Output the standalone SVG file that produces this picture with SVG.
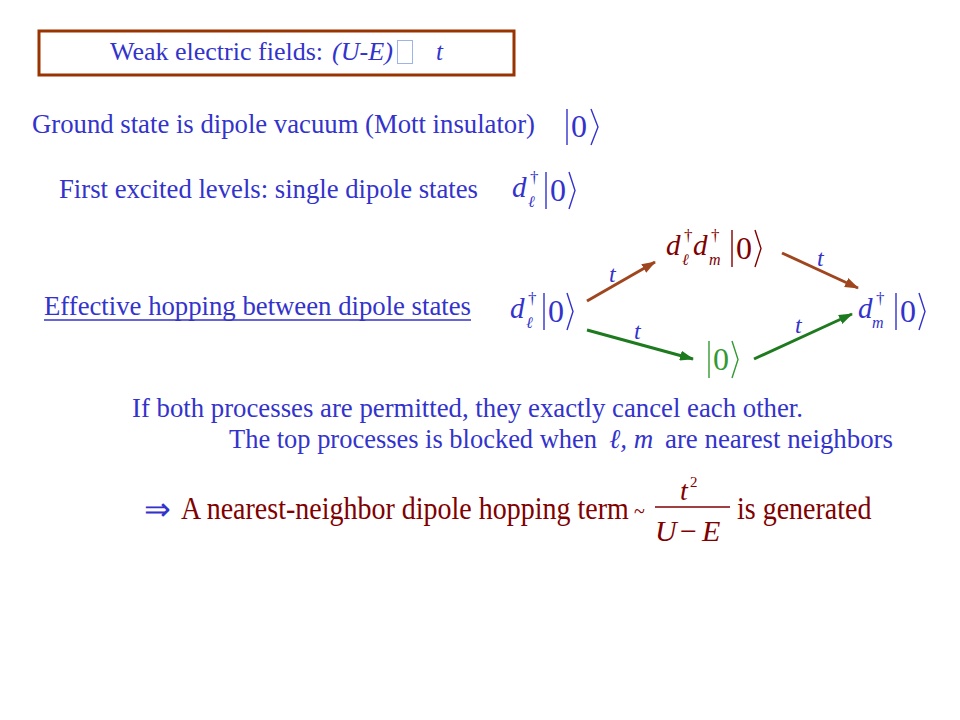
<svg xmlns="http://www.w3.org/2000/svg" width="960" height="720" viewBox="0 0 960 720">
<defs>
<style>
text{font-family:"Liberation Serif","Times New Roman",serif;}
.b{fill:#3333CC;}
.r{fill:#800000;}
.g{fill:#339933;}
.it{font-style:italic;}
.t27{font-size:27px;}
.z{font-size:32px;}
.d{font-size:29px;font-style:italic;}
.sup{font-size:17px;}
.sub{font-size:16px;font-style:italic;}
.kb{fill:none;stroke-width:1.4;stroke-linejoin:miter;}
.kbB{stroke:#3333CC;}
.kbR{stroke:#800000;}
.kbG{stroke:#339933;}
.arB{stroke:#A0461E;stroke-width:3;fill:none;}
.arG{stroke:#1E7A1E;stroke-width:3;fill:none;}
</style>
<marker id="ahB" markerWidth="14" markerHeight="10" refX="13" refY="5" orient="auto" markerUnits="userSpaceOnUse"><path d="M0,0 L14,5 L0,10 Z" fill="#A0461E"/></marker>
<marker id="ahG" markerWidth="14" markerHeight="10" refX="13" refY="5" orient="auto" markerUnits="userSpaceOnUse"><path d="M0,0 L14,5 L0,10 Z" fill="#1E7A1E"/></marker>
</defs>
<rect width="960" height="720" fill="#FFFFFF"/>

<g id="title">
<rect x="39" y="31" width="475" height="44" fill="#FFFFFF" stroke="#993300" stroke-width="3"/>
<text x="110" y="60" class="b" font-size="25" textLength="213" lengthAdjust="spacingAndGlyphs">Weak electric fields:</text>
<text x="332" y="60" class="b it" font-size="25" textLength="61" lengthAdjust="spacingAndGlyphs">(U-E)</text>
<rect x="397.5" y="40.5" width="15" height="23" fill="none" stroke="#9DB4E8" stroke-width="1"/>
<text x="436" y="60" class="b it" font-size="25">t</text>
</g>

<g id="ground">
<text x="32" y="133" class="b t27" textLength="503" lengthAdjust="spacingAndGlyphs">Ground state is dipole vacuum (Mott insulator)</text>
<line x1="567" y1="109" x2="567" y2="145" class="kb kbB"/>
<text x="571" y="137" class="b z">0</text>
<polyline points="591,109 598,127 591,145" class="kb kbB"/>
</g>

<g id="first-excited">
<text x="59" y="198" class="b t27" textLength="419" lengthAdjust="spacingAndGlyphs">First excited levels: single dipole states</text>
<text x="512" y="197" class="b d">d</text>
<text x="530" y="183" class="b sup">†</text>
<text x="528" y="207" class="b sub">ℓ</text>
<line x1="546" y1="172" x2="546" y2="209" class="kb kbB"/>
<text x="550" y="201" class="b z">0</text>
<polyline points="569,172 575,190.5 569,209" class="kb kbB"/>
</g>

<g id="effective">
<text x="44" y="315" class="b t27" textLength="427" lengthAdjust="spacingAndGlyphs">Effective hopping between dipole states</text>
<line x1="44" y1="320" x2="471" y2="320" stroke="#3333CC" stroke-width="1.5"/>
</g>

<g id="state-left">
<text x="510" y="318" class="b d">d</text>
<text x="528" y="304" class="b sup">†</text>
<text x="526" y="328" class="b sub">ℓ</text>
<line x1="544" y1="293" x2="544" y2="330" class="kb kbB"/>
<text x="548" y="322" class="b z">0</text>
<polyline points="567,293 573,311.5 567,330" class="kb kbB"/>
</g>

<g id="state-top">
<text x="666" y="255" class="r d">d</text>
<text x="684" y="241" class="r sup">†</text>
<text x="682" y="265" class="r sub">ℓ</text>
<text x="693" y="255" class="r d">d</text>
<text x="711" y="241" class="r sup">†</text>
<text x="709" y="265" class="r sub">m</text>
<line x1="732" y1="230" x2="732" y2="267" class="kb kbR"/>
<text x="736" y="259" class="r z">0</text>
<polyline points="755,230 761,248.5 755,267" class="kb kbR"/>
</g>

<g id="state-right">
<text x="858" y="318" class="b d">d</text>
<text x="876" y="304" class="b sup">†</text>
<text x="872" y="328" class="b sub">m</text>
<line x1="896" y1="293" x2="896" y2="330" class="kb kbB"/>
<text x="900" y="322" class="b z">0</text>
<polyline points="919,293 925,311.5 919,330" class="kb kbB"/>
</g>

<g id="state-bottom">
<line x1="709" y1="341" x2="709" y2="378" class="kb kbG"/>
<text x="713" y="370" class="g z">0</text>
<polyline points="732,341 738,359.5 732,378" class="kb kbG"/>
</g>

<g id="connectors">
<line x1="587" y1="301" x2="655" y2="262" class="arB" marker-end="url(#ahB)"/>
<line x1="782" y1="253" x2="858" y2="288" class="arB" marker-end="url(#ahB)"/>
<line x1="587" y1="330" x2="693" y2="359" class="arG" marker-end="url(#ahG)"/>
<line x1="754" y1="359" x2="852" y2="314" class="arG" marker-end="url(#ahG)"/>
<text x="609" y="282" class="b it" font-size="24">t</text>
<text x="817" y="266" class="b it" font-size="24">t</text>
<text x="634" y="339" class="b it" font-size="24">t</text>
<text x="795" y="333" class="b it" font-size="24">t</text>
</g>

<g id="cancel">
<text x="132" y="417" class="b t27" textLength="671" lengthAdjust="spacingAndGlyphs">If both processes are permitted, they exactly cancel each other.</text>
<text x="229" y="448" class="b t27" textLength="368" lengthAdjust="spacingAndGlyphs">The top processes is blocked when</text>
<text x="609" y="448" class="b it" font-size="27">ℓ, m</text>
<text x="665" y="448" class="b t27" textLength="228" lengthAdjust="spacingAndGlyphs">are nearest neighbors</text>
</g>

<g id="result">
<text x="144" y="520" class="b" font-size="32" font-family="DejaVu Sans">⇒</text>
<text x="0" y="0" class="r" font-size="28" transform="translate(181,519) scale(1,1.12)">A nearest-neighbor dipole hopping term</text>
<text x="634" y="518" class="r" font-size="20">~</text>
<text x="680" y="500" class="r it" font-size="28">t</text>
<text x="690" y="487" class="r" font-size="15">2</text>
<line x1="655" y1="507" x2="730" y2="507" stroke="#800000" stroke-width="1.5"/>
<text x="655" y="541" class="r it" font-size="30">U</text>
<text x="680" y="541" class="r" font-size="30">−</text>
<text x="702" y="541" class="r it" font-size="30">E</text>
<text x="0" y="0" class="r" font-size="28" transform="translate(737,519) scale(1,1.12)">is generated</text>
</g>
</svg>
